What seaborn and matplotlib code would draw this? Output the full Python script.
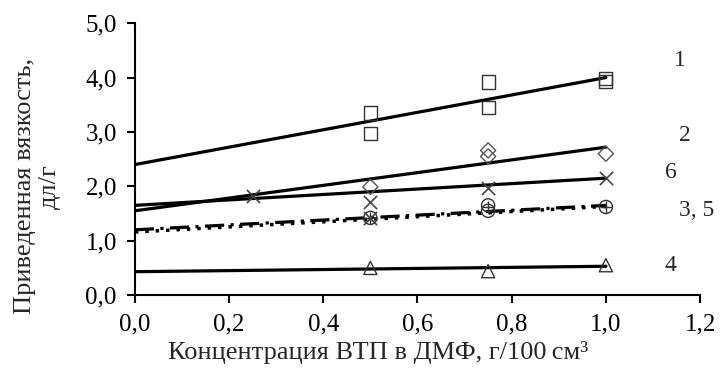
import numpy as np
import pandas as pd
import seaborn as sns
import matplotlib
matplotlib.use('Agg')
import matplotlib.pyplot as plt

# экспериментальные точки
x1 = [0.5, 0.5, 0.75, 0.75, 1.0, 1.0]
y1 = [3.35, 2.97, 3.92, 3.45, 3.99, 3.93]
x2 = [0.5, 0.75, 0.75, 1.0]
y2 = [1.99, 2.66, 2.55, 2.60]
x3 = [0.5, 0.75, 0.75, 1.0]
y3 = [1.42, 1.55, 1.65, 1.62]
x5 = [0.5, 0.75, 1.0]
y5 = [1.42, 1.62, 1.62]
x4 = [0.5, 0.75, 1.0]
y4 = [0.50, 0.44, 0.55]
x6 = [0.25, 0.5, 0.5, 0.75, 1.0]
y6 = [1.82, 1.72, 1.42, 1.97, 2.15]

# линии тренда (значения на концах)
fit_x = [0.0, 1.0]
fit1 = [2.40, 4.00]
fit2 = [1.55, 2.72]
fit6 = [1.65, 2.15]
fit3 = [1.20, 1.65]
fit5 = [1.16, 1.63]
fit4 = [0.43, 0.53]

curve_labels = ['1', '2', '6', '3, 5', '4']
label_x = [1.145, 1.155, 1.125, 1.155, 1.125]
label_y = [4.32, 2.94, 2.26, 1.56, 0.55]

xticks = [0.0, 0.2, 0.4, 0.6, 0.8, 1.0, 1.2]
yticks = [0.0, 1.0, 2.0, 3.0, 4.0, 5.0]

sns.set_style('ticks')
plt.rcParams['font.family'] = ['Liberation Serif', 'DejaVu Serif']

fig = plt.figure(figsize=(7.21, 3.74), dpi=100)
ax = fig.add_axes([0.187, 0.211, 0.784, 0.727])

# линии
sns.lineplot(x=fit_x, y=fit1, ax=ax, color='black', lw=2.3)
sns.lineplot(x=fit_x, y=fit2, ax=ax, color='black', lw=2.3)
sns.lineplot(x=fit_x, y=fit6, ax=ax, color='black', lw=2.3)
sns.lineplot(x=fit_x, y=fit4, ax=ax, color='black', lw=2.3)
sns.lineplot(x=fit_x, y=fit5, ax=ax, color='black', lw=2.5, linestyle=(0, (1, 2)))
sns.lineplot(x=fit_x, y=fit3, ax=ax, color='black', lw=2.3, linestyle=(0, (6, 2, 1, 2)))

# маркеры
sns.scatterplot(x=x1, y=y1, ax=ax, marker='s', s=90, facecolor='none', edgecolor='#333333', linewidth=1.0, zorder=3)
sns.scatterplot(x=x2, y=y2, ax=ax, marker='D', s=60, facecolor='none', edgecolor='#555555', linewidth=1.0, zorder=3)
sns.scatterplot(x=x3, y=y3, ax=ax, marker='o', s=90, facecolor='none', edgecolor='#333333', linewidth=1.0, zorder=3)
sns.scatterplot(x=x5, y=y5, ax=ax, marker='+', s=70, color='#333333', linewidth=1.0, zorder=3)
sns.scatterplot(x=x4, y=y4, ax=ax, marker='^', s=90, facecolor='none', edgecolor='#333333', linewidth=1.0, zorder=3)
sns.scatterplot(x=x6, y=y6, ax=ax, marker='x', s=90, color='#444444', linewidth=1.2, zorder=3)

for t, lx, ly in zip(curve_labels, label_x, label_y):
    ax.text(lx, ly, t, fontsize=17, ha='left', va='center')

ax.set_xlim(0, 1.2)
ax.set_ylim(0, 5.0)
ax.set_xticks(xticks)
ax.set_yticks(yticks)
ax.set_xticklabels([f'{v:.1f}'.replace('.', ',') for v in xticks], fontsize=18)
ax.set_yticklabels([f'{v:.1f}'.replace('.', ',') for v in yticks], fontsize=18)
ax.tick_params(direction='out', length=6, width=1.5, pad=7, colors='black')
for s in ['left', 'bottom']:
    ax.spines[s].set_linewidth(1.5)
    ax.spines[s].set_color('black')
sns.despine(ax=ax)

ax.set_xlabel('Концентрация ВТП в ДМФ, г/100\u2009см³', fontsize=19)
ax.xaxis.set_label_coords(0.43, -0.17)
ax.set_ylabel('Приведенная вязкость,\nдл/г', fontsize=19, linespacing=1.2)
ax.yaxis.set_label_coords(-0.13, 0.40)

fig.savefig('out.png', dpi=100)
